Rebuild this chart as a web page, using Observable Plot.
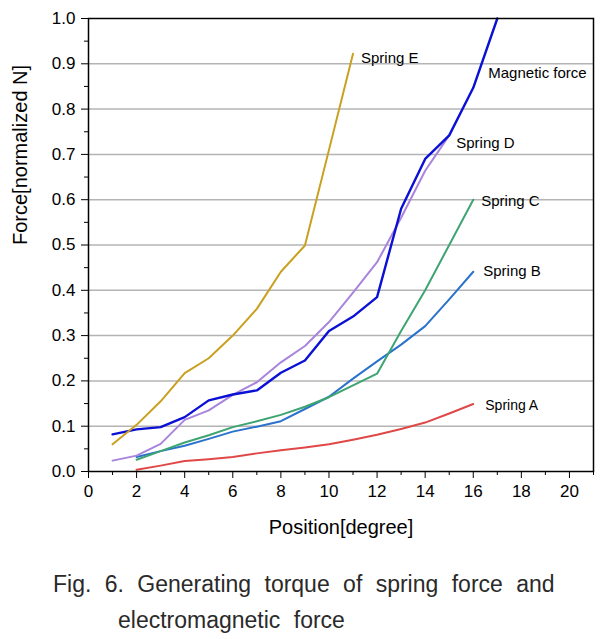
<!DOCTYPE html>
<html>
<head>
<meta charset="utf-8">
<script src="https://cdn.jsdelivr.net/npm/d3@7"></script>
<script src="https://cdn.jsdelivr.net/npm/@observablehq/plot@0.6"></script>
<style>
  html, body { margin: 0; padding: 0; background: #fff; }
  #chart svg { display: block; }
  #caption { font-family: "Liberation Sans", Arial, sans-serif; font-size: 23px; color: #2a2a2a; line-height: 36px; margin-top: 14px; word-spacing: 7px; }
  #caption .l1 { padding-left: 53px; }
  #caption .l2 { padding-left: 118px; }
</style>
</head>
<body>
<div id="chart"></div>
<div id="caption"><div class="l1">Fig. 6. Generating torque of spring force and</div><div class="l2">electromagnetic force</div></div>
<script>
const springE_x = [1,2,3,4,5,6,7,8,9,10,11];
const springE_y = [0.06,0.103,0.155,0.217,0.25,0.30,0.359,0.441,0.499,0.71,0.922];
const magnetic_x = [1,2,3,4,5,6,7,8,9,10,11,12,13,14,15,16,17];
const magnetic_y = [0.082,0.093,0.098,0.12,0.157,0.17,0.179,0.218,0.245,0.31,0.342,0.385,0.58,0.69,0.742,0.847,1.0];
const springD_x = [1,2,3,4,5,6,7,8,9,10,11,12,13,14,15];
const springD_y = [0.024,0.035,0.061,0.114,0.135,0.169,0.197,0.241,0.277,0.33,0.395,0.462,0.56,0.664,0.742];
const springC_x = [2,3,4,5,6,7,8,9,10,11,12,13,14,15,16];
const springC_y = [0.026,0.045,0.064,0.08,0.098,0.111,0.125,0.143,0.164,0.19,0.216,0.31,0.40,0.50,0.60];
const springB_x = [2,3,4,5,6,7,8,9,10,11,12,13,14,15,16];
const springB_y = [0.032,0.045,0.057,0.072,0.088,0.099,0.111,0.138,0.165,0.205,0.243,0.28,0.321,0.38,0.441];
const springA_x = [2,3,4,5,6,7,8,9,10,11,12,13,14,15,16];
const springA_y = [0.004,0.013,0.023,0.027,0.032,0.040,0.047,0.053,0.06,0.07,0.081,0.094,0.108,0.128,0.149];

const seriesNames = ["Spring A","Spring B","Spring C","Spring D","Magnetic force","Spring E"];
const seriesColors = ["#e04848","#2a72cc","#3da472","#a884dc","#0a10d4","#c9a020"];
const xTicks = [0,2,4,6,8,10,12,14,16,18,20];
const xMinor = [1,3,5,7,9,11,13,15,17,19,21];
const yTicks = [0,0.1,0.2,0.3,0.4,0.5,0.6,0.7,0.8,0.9,1.0];
const yMinor = [0.05,0.15,0.25,0.35,0.45,0.55,0.65,0.75,0.85,0.95];
const gridY = [0.1,0.2,0.3,0.4,0.5,0.6,0.7,0.8,0.9];

const xs = [springA_x, springB_x, springC_x, springD_x, magnetic_x, springE_x];
const ys = [springA_y, springB_y, springC_y, springD_y, magnetic_y, springE_y];
const rows = [];
seriesNames.forEach((name, i) => xs[i].forEach((x, j) => rows.push({series: name, x, y: ys[i][j]})));
const byName = name => rows.filter(r => r.series === name);
const last = name => { const r = byName(name); return r[r.length - 1]; };

const labelOffsets = {
  "Spring A": {dx: 12, dy: 2, size: 14},
  "Spring B": {dx: 10, dy: -1, size: 15},
  "Spring C": {dx: 8, dy: 1, size: 15},
  "Spring D": {dx: 7, dy: 8, size: 15},
  "Spring E": {dx: 8, dy: 4, size: 15}
};

const marks = [
  Plot.ruleY(gridY, {stroke: "#b4b4b4", strokeWidth: 1.5}),
  Plot.axisX(xTicks, {tickSize: 7, fontSize: 17, tickPadding: 6, label: null, stroke: "#000"}),
  Plot.axisX(xMinor, {tickSize: 4, text: null, label: null, stroke: "#000"}),
  Plot.axisY(yTicks, {tickSize: 7, fontSize: 17, tickPadding: 6, label: null, tickFormat: d3.format(".1f"), stroke: "#000"}),
  Plot.axisY(yMinor, {tickSize: 4, text: null, label: null, stroke: "#000"}),
];
seriesNames.forEach((name, i) => {
  marks.push(Plot.line(byName(name), {x: "x", y: "y", stroke: seriesColors[i], strokeWidth: name === "Magnetic force" ? 2.4 : 2}));
});
Object.keys(labelOffsets).forEach(name => {
  const o = labelOffsets[name];
  marks.push(Plot.text([last(name)], {x: "x", y: "y", text: d => d.series, textAnchor: "start", dx: o.dx, dy: o.dy, fontSize: o.size, fill: "#000"}));
});
// Magnetic force label sits beside the x = 16 point
marks.push(Plot.text(byName("Magnetic force").filter(d => d.x === 16), {x: "x", y: "y", text: d => d.series, textAnchor: "start", dx: 15, dy: -15, fontSize: 15, fill: "#000"}));
marks.push(Plot.frame({stroke: "#000", strokeWidth: 1.5}));
marks.push(Plot.text(["Position[degree]"], {frameAnchor: "bottom", dy: 62, fontSize: 20, fill: "#000"}));
marks.push(Plot.text(["Force[normalized N]"], {frameAnchor: "left", dx: -68, rotate: -90, fontSize: 20, fill: "#000"}));

const chart = Plot.plot({
  width: 614,
  height: 552,
  marginLeft: 88,
  marginRight: 21,
  marginTop: 18,
  marginBottom: 81,
  style: {fontFamily: "'Liberation Sans', Arial, sans-serif", fontSize: "17px", background: "#fff", color: "#000"},
  x: {domain: [0, 21]},
  y: {domain: [0, 1]},
  marks
});
document.getElementById("chart").appendChild(chart);
</script>
</body>
</html>
